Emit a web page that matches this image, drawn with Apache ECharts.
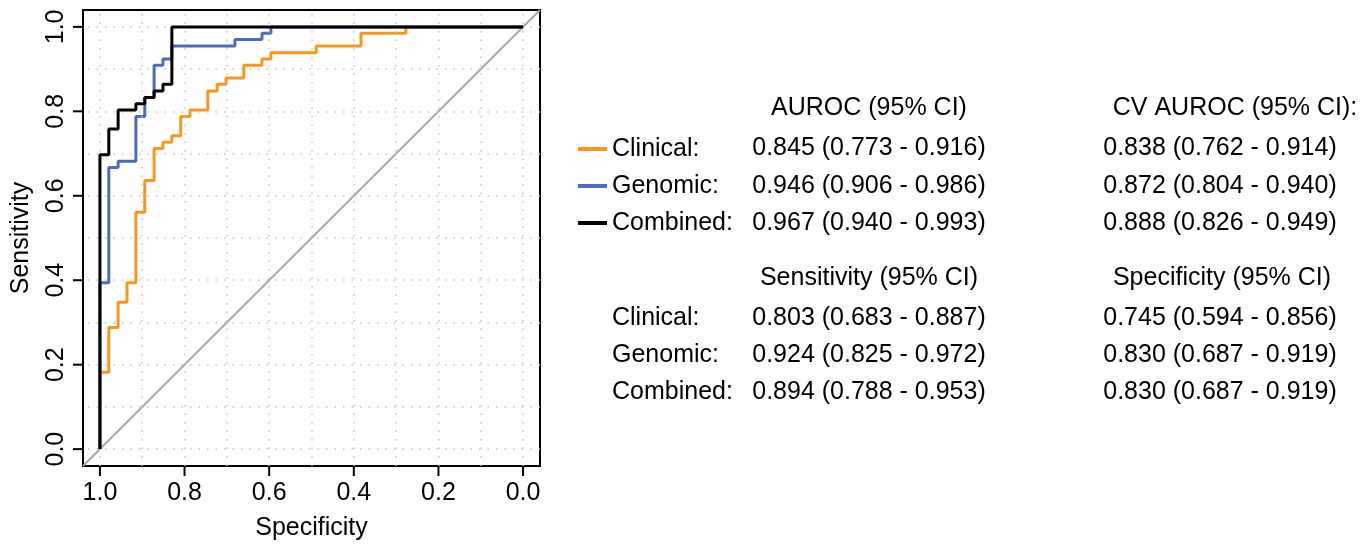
<!DOCTYPE html>
<html>
<head>
<meta charset="utf-8">
<title>ROC curves</title>
<script src="https://cdn.jsdelivr.net/npm/echarts@6/dist/echarts.min.js"></script>
<style>
  html, body { margin: 0; padding: 0; background: #fff; }
  #roc-chart { width: 1371px; height: 546px; }
</style>
</head>
<body>
<div id="roc-chart"></div>
<script>
var FONT = '"Liberation Sans", Arial, sans-serif'

// ROC corner points (specificity, sensitivity)
var clinicalSpec = [1, 1, 0.979, 0.979, 0.957, 0.957, 0.936, 0.936, 0.915, 0.915, 0.894, 0.894, 0.872, 0.872, 0.851, 0.851, 0.830, 0.830, 0.809, 0.809, 0.787, 0.787, 0.745, 0.745, 0.723, 0.723, 0.702, 0.702, 0.660, 0.660, 0.617, 0.617, 0.596, 0.596, 0.489, 0.489, 0.383, 0.383, 0.277, 0.277, 0]
var clinicalSens = [0, 0.182, 0.182, 0.288, 0.288, 0.348, 0.348, 0.394, 0.394, 0.561, 0.561, 0.636, 0.636, 0.712, 0.712, 0.727, 0.727, 0.742, 0.742, 0.788, 0.788, 0.803, 0.803, 0.848, 0.848, 0.864, 0.864, 0.879, 0.879, 0.909, 0.909, 0.924, 0.924, 0.939, 0.939, 0.955, 0.955, 0.985, 0.985, 1, 1]

var genomicSpec = [1, 1, 0.979, 0.979, 0.957, 0.957, 0.915, 0.915, 0.894, 0.894, 0.872, 0.872, 0.851, 0.851, 0.830, 0.830, 0.681, 0.681, 0.617, 0.617, 0.596, 0.596, 0]
var genomicSens = [0, 0.394, 0.394, 0.667, 0.667, 0.682, 0.682, 0.788, 0.788, 0.833, 0.833, 0.909, 0.909, 0.924, 0.924, 0.955, 0.955, 0.970, 0.970, 0.985, 0.985, 1, 1]

var combinedSpec = [1, 1, 0.979, 0.979, 0.957, 0.957, 0.915, 0.915, 0.894, 0.894, 0.872, 0.872, 0.851, 0.851, 0.830, 0.830, 0]
var combinedSens = [0, 0.697, 0.697, 0.758, 0.758, 0.803, 0.803, 0.818, 0.818, 0.833, 0.833, 0.848, 0.848, 0.864, 0.864, 1, 1]

var modelNames = ['Clinical', 'Genomic', 'Combined']
var modelColors = ['#f7981d', '#4b6cb7', '#000000']

// ticks, dotted grid and the 4% padded axis range
var tickValues = [0, 0.2, 0.4, 0.6, 0.8, 1.0]
var gridValues = [0, 0.1, 0.2, 0.3, 0.4, 0.5, 0.6, 0.7, 0.8, 0.9, 1.0]
var axisMin = -0.04
var axisMax = 1.04

// summary table on the right
var aurocHeader = 'AUROC (95% CI)'
var cvAurocHeader = 'CV AUROC (95% CI):'
var sensHeader = 'Sensitivity (95% CI)'
var specHeader = 'Specificity (95% CI)'
var aurocText = ['0.845 (0.773 - 0.916)', '0.946 (0.906 - 0.986)', '0.967 (0.940 - 0.993)']
var cvAurocText = ['0.838 (0.762 - 0.914)', '0.872 (0.804 - 0.940)', '0.888 (0.826 - 0.949)']
var sensText = ['0.803 (0.683 - 0.887)', '0.924 (0.825 - 0.972)', '0.894 (0.788 - 0.953)']
var specText = ['0.745 (0.594 - 0.856)', '0.830 (0.687 - 0.919)', '0.830 (0.687 - 0.919)']

function zip(xs, ys) {
  return xs.map(function (x, i) { return [x, ys[i]] })
}

function txt(text, x, y, align) {
  return {
    type: 'text',
    silent: true,
    style: {
      text: text,
      x: x,
      y: y,
      align: align || 'center',
      verticalAlign: 'middle',
      font: '25px ' + FONT,
      fill: '#000'
    }
  }
}

var rowsTop = [148, 186, 223]
var rowsBottom = [318, 355, 392]
var graphics = [
  txt(aurocHeader, 869, 108),
  txt(cvAurocHeader, 1235, 108),
  txt(sensHeader, 869, 278),
  txt(specHeader, 1222, 278)
]
for (var i = 0; i < 3; i++) {
  graphics.push(txt(aurocText[i], 869, rowsTop[i]))
  graphics.push(txt(cvAurocText[i], 1220, rowsTop[i]))
  graphics.push(txt(modelNames[i] + ':', 612, rowsBottom[i], 'left'))
  graphics.push(txt(sensText[i], 869, rowsBottom[i]))
  graphics.push(txt(specText[i], 1220, rowsBottom[i]))
}

var gridMarks = gridValues.map(function (v) { return { xAxis: v } })
  .concat(gridValues.map(function (v) { return { yAxis: v } }))

// tick marks: [value, 0] for the x axis, [value, 1] for the y axis
var tickData = tickValues.map(function (v) { return [v, 0] })
  .concat(tickValues.map(function (v) { return [v, 1] }))
var TICK_LEN = 10

function renderTick(params, api) {
  var v = api.value(0)
  var onY = api.value(1) === 1
  var p, shape
  if (onY) {
    p = api.coord([axisMax, v])
    shape = { x1: p[0] - TICK_LEN, y1: p[1], x2: p[0], y2: p[1] }
  } else {
    p = api.coord([v, axisMin])
    shape = { x1: p[0], y1: p[1], x2: p[0], y2: p[1] + TICK_LEN }
  }
  return { type: 'line', shape: shape, style: { stroke: '#000', lineWidth: 2 } }
}

function rocSeries(idx, spec, sens) {
  return {
    name: modelNames[idx],
    type: 'line',
    data: zip(spec, sens),
    color: modelColors[idx],
    symbol: 'none',
    z: 3 + idx,
    lineStyle: { color: modelColors[idx], width: 3 }
  }
}

function axisOpt(name, gap, inverse, rotate, margin) {
  return {
    type: 'value',
    inverse: inverse,
    min: axisMin,
    max: axisMax,
    name: name,
    nameLocation: 'middle',
    nameGap: gap,
    nameTextStyle: { fontSize: 25, color: '#000', fontFamily: FONT },
    axisLine: { show: false, onZero: false },
    axisTick: { show: false },
    splitLine: { show: false },
    axisLabel: {
      customValues: tickValues,
      rotate: rotate,
      margin: margin,
      fontSize: 25,
      color: '#000',
      fontFamily: FONT,
      formatter: function (v) { return v.toFixed(1) }
    }
  }
}

var chart = echarts.init(document.getElementById('roc-chart'))
chart.setOption({
  animation: false,
  backgroundColor: '#fff',
  textStyle: { fontFamily: FONT },
  grid: {
    left: 83, top: 10, width: 457, height: 456,
    show: true, borderColor: '#000', borderWidth: 2
  },
  legend: {
    data: modelNames,
    orient: 'vertical',
    left: 578,
    top: 135,
    padding: 0,
    itemGap: 9,
    itemWidth: 29,
    itemHeight: 4,
    icon: 'rect',
    selectedMode: false,
    formatter: function (n) { return n + ':' },
    textStyle: { fontSize: 25, lineHeight: 28, color: '#000', fontFamily: FONT }
  },
  xAxis: axisOpt('Specificity', 50, true, 0, 15),
  yAxis: axisOpt('Sensitivity', 49, false, 90, 14),
  graphic: graphics,
  series: [
    {
      name: 'diagonal',
      type: 'line',
      data: [[axisMax, axisMin], [axisMin, axisMax]],
      symbol: 'none',
      z: 2,
      lineStyle: { color: '#a9a9a9', width: 2 },
      markLine: {
        silent: true,
        symbol: ['none', 'none'],
        label: { show: false },
        lineStyle: { color: '#c4c4c4', width: 1.5, type: [1.5, 7] },
        emphasis: { disabled: true },
        data: gridMarks
      }
    },
    rocSeries(0, clinicalSpec, clinicalSens),
    rocSeries(1, genomicSpec, genomicSens),
    rocSeries(2, combinedSpec, combinedSens),
    {
      name: 'ticks',
      type: 'custom',
      data: tickData,
      renderItem: renderTick,
      clip: false,
      silent: true,
      z: 10
    }
  ]
})
</script>
</body>
</html>
